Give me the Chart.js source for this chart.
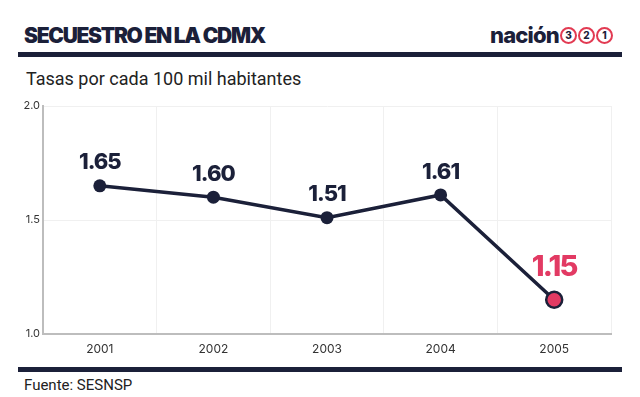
<!DOCTYPE html>
<html>
<head>
<meta charset="utf-8">
<script src="https://cdn.jsdelivr.net/npm/chart.js@4"></script>
<style>
  body { margin: 0; width: 640px; height: 397px; background: #fff; position: relative; overflow: hidden; font-family: Inter, sans-serif; }
  .title { position: absolute; left: 24px; top: 23px; font: 900 21px Inter, sans-serif; letter-spacing: -1.3px; color: #1b2039; }
  .logo { position: absolute; left: 490px; top: 22px; font: 800 22px Inter, sans-serif; letter-spacing: -0.8px; color: #1b2039; display: flex; align-items: center; }
  .logo span.c { display: inline-block; width: 13px; height: 13px; border: 2px solid #e23a52; border-radius: 50%; font: 800 10px Inter, sans-serif; line-height: 13px; text-align: center; letter-spacing: 0; color: #1b2039; margin-left: 1px; }
  .rule { position: absolute; left: 18px; width: 604px; height: 5px; background: #1b2039; }
  .sub { position: absolute; left: 26px; top: 68px; font: 18px Roboto, sans-serif; color: #222; }
  .src { position: absolute; left: 24px; top: 376px; font: 15px Roboto, sans-serif; color: #222; }
  #wrap { position: absolute; left: 0; top: 90px; width: 640px; height: 270px; }
</style>
</head>
<body>
<div class="title">SECUESTRO EN LA CDMX</div>
<div class="logo">nación<span class="c">3</span><span class="c">2</span><span class="c">1</span></div>
<div class="rule" style="top:52px"></div>
<div class="sub">Tasas por cada 100 mil habitantes</div>
<div id="wrap"><canvas id="chart"></canvas></div>
<div class="rule" style="top:367px"></div>
<div class="src">Fuente: SESNSP</div>
<script>
const years = ['2001', '2002', '2003', '2004', '2005'];
const rates = [1.65, 1.60, 1.51, 1.61, 1.15];
const yTicks = [1.0, 1.5, 2.0];

const navy = '#1b2039';
const pink = '#e23a63';
const lastIdx = rates.length - 1;

// draws the value above each point, last one bigger and pink
const valueLabels = {
    id: 'valueLabels',
    afterDatasetsDraw(chart) {
        const c = chart.ctx;
        const meta = chart.getDatasetMeta(0);
        c.save();
        c.textAlign = 'center';
        c.textBaseline = 'middle';
        meta.data.forEach((pt, i) => {
            const last = i === lastIdx;
            c.font = last ? '800 29px Inter, sans-serif' : '800 22px Inter, sans-serif';
            if ('letterSpacing' in c) c.letterSpacing = last ? '-1.8px' : '-1px';
            c.fillStyle = last ? pink : navy;
            c.fillText(rates[i].toFixed(2), pt.x, pt.y - (last ? 33 : 23));
        });
        c.restore();
    }
};

const ctx = document.querySelector('#chart').getContext('2d');
const chart = new Chart(ctx, {
    type: 'line',
    data: {
        labels: years,
        datasets: [{
            data: rates,
            borderColor: navy,
            borderWidth: 3.5,
            pointRadius: rates.map((v, i) => i === lastIdx ? 8 : 6.5),
            pointBackgroundColor: rates.map((v, i) => i === lastIdx ? pink : navy),
            pointBorderColor: navy,
            pointBorderWidth: rates.map((v, i) => i === lastIdx ? 2.5 : 0),
            tension: 0,
        }]
    },
    options: {
        responsive: true,
        maintainAspectRatio: false,
        animation: false,
        layout: { padding: { top: 16, right: 29, bottom: 0, left: 0 } },
        scales: {
            x: {
                offset: true,
                grid: { offset: true, color: '#f0f0f0', drawTicks: false },
                border: { color: '#bdbdbd', width: 2 },
                ticks: { color: '#333', font: { family: 'Inter', size: 12 }, padding: 8 },
                afterFit: (s) => { s.height = 26; }
            },
            y: {
                min: 1.0,
                max: 2.0,
                afterBuildTicks: (s) => { s.ticks = yTicks.map(v => ({ value: v })); },
                grid: { color: '#f0f0f0', drawTicks: false },
                border: { color: '#bdbdbd', width: 2 },
                ticks: { color: '#333', font: { family: 'Inter', size: 11 }, padding: 3, callback: (v) => v.toFixed(1) },
                afterFit: (s) => { s.width = 43; }
            }
        },
        plugins: {
            legend: { display: false },
            tooltip: { enabled: false }
        }
    },
    plugins: [valueLabels]
});
</script>
</body>
</html>
